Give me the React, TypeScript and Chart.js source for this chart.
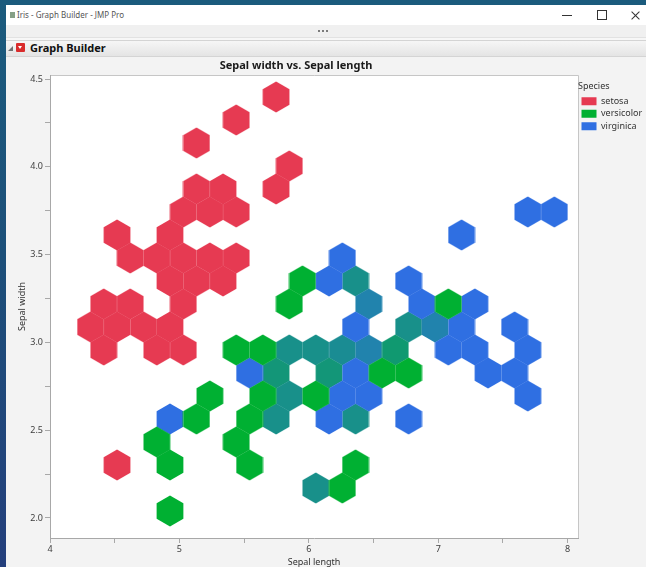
import React, { useEffect, useRef } from "react";
import { Chart, registerables } from "chart.js";

Chart.register(...registerables);

const FONT = "'Noto Sans', 'Open Sans', 'DejaVu Sans', sans-serif";

// ---------- text ----------
const windowTitle = "Iris - Graph Builder - JMP Pro";
const panelTitle = "Graph Builder";
const chartTitle = "Sepal width vs. Sepal length";
const xTitle = "Sepal length";
const yTitle = "Sepal width";
const legendTitle = "Species";

// ---------- categories ----------
const speciesNames = ["setosa", "versicolor", "virginica"];
const speciesColors = ["#E63A52", "#00B032", "#2F6FE2"];

// ---------- ticks ----------
const xMajorTicks = [4, 5, 6, 7, 8];
const xMajorLabels = ["4", "5", "6", "7", "8"];
const xMinorTicks = [4.5, 5.5, 6.5, 7.5];
const yMajorTicks = [2.0, 2.5, 3.0, 3.5, 4.0, 4.5];
const yMajorLabels = ["2.0", "2.5", "3.0", "3.5", "4.0", "4.5"];
const yMinorTicks = [2.25, 2.75, 3.25, 3.75, 4.25];
const xRange = [4.0, 8.08];
const yRange = [1.886, 4.523];

// ---------- hexbin centres (sepal length, sepal width) ----------
const setosaX = [5.747, 5.439, 5.132, 5.849, 5.132, 5.337, 5.747, 5.030, 5.235, 5.439, 4.518, 4.927, 4.620, 4.825, 5.030, 5.235, 5.439, 4.927, 5.132, 5.337, 4.415, 4.620, 5.030, 4.313, 4.518, 4.723, 4.927, 4.415, 4.825, 5.030, 4.518];
const setosaY = [4.398, 4.267, 4.136, 4.005, 3.874, 3.874, 3.874, 3.743, 3.743, 3.743, 3.612, 3.612, 3.481, 3.481, 3.481, 3.481, 3.481, 3.350, 3.350, 3.350, 3.219, 3.219, 3.219, 3.088, 3.088, 3.088, 3.088, 2.957, 2.957, 2.957, 2.302];

const versicolorX = [5.951, 5.849, 7.078, 5.439, 5.644, 6.566, 6.771, 5.235, 5.644, 6.054, 5.132, 5.542, 4.825, 5.439, 4.927, 5.542, 6.361, 6.259, 4.927];
const versicolorY = [3.350, 3.219, 3.219, 2.957, 2.957, 2.826, 2.826, 2.695, 2.695, 2.695, 2.564, 2.564, 2.433, 2.433, 2.302, 2.302, 2.302, 2.171, 2.040];

const virginicaX = [7.692, 7.897, 7.180, 6.259, 6.156, 6.771, 6.873, 7.283, 6.361, 7.180, 7.590, 7.078, 7.283, 7.692, 5.542, 6.361, 7.385, 7.590, 6.259, 6.463, 7.692, 4.927, 6.156, 6.771];
const virginicaY = [3.743, 3.743, 3.612, 3.481, 3.350, 3.350, 3.219, 3.219, 3.088, 3.088, 3.088, 2.957, 2.957, 2.957, 2.826, 2.826, 2.826, 2.826, 2.695, 2.695, 2.695, 2.564, 2.564, 2.564];

// cells holding both versicolor and virginica; share = virginica fraction
const mixedX = [6.361, 6.463, 6.771, 6.975, 5.849, 6.054, 6.259, 6.463, 6.668, 5.747, 6.156, 5.849, 5.747, 6.361, 6.054];
const mixedY = [3.350, 3.219, 3.088, 3.088, 2.957, 2.957, 2.957, 2.957, 2.957, 2.826, 2.826, 2.695, 2.564, 2.564, 2.171];
const mixedShare = [0.5, 0.7, 0.5, 0.7, 0.5, 0.5, 0.55, 0.7, 0.35, 0.4, 0.4, 0.5, 0.5, 0.5, 0.5];

const HEX_W = 26.5; // flat-to-flat width in px

function makeHex(color: string): HTMLCanvasElement {
  const R = HEX_W / Math.sqrt(3) + 0.15;
  const c = document.createElement("canvas");
  c.width = 28;
  c.height = 32;
  const g = c.getContext("2d")!;
  g.translate(14, 16);
  g.beginPath();
  for (let i = 0; i < 6; i++) {
    const a = (Math.PI / 180) * (60 * i - 90);
    const px = R * Math.cos(a);
    const py = R * Math.sin(a);
    if (i === 0) g.moveTo(px, py);
    else g.lineTo(px, py);
  }
  g.closePath();
  g.fillStyle = color;
  g.fill();
  return c;
}

function hexToRgb(h: string) {
  const n = parseInt(h.slice(1), 16);
  return [(n >> 16) & 255, (n >> 8) & 255, n & 255];
}
function blend(a: string, b: string, t: number) {
  const A = hexToRgb(a);
  const B = hexToRgb(b);
  const c = A.map((v, i) => Math.round(v * (1 - t) + B[i] * t));
  return "#" + c.map((v) => v.toString(16).padStart(2, "0")).join("");
}

const zip = (xs: number[], ys: number[]) => xs.map((x, i) => ({ x, y: ys[i] }));

export default function App() {
  const ref = useRef<HTMLCanvasElement>(null);

  useEffect(() => {
    const canvas = ref.current;
    if (!canvas) return;
    const cache = new Map<string, HTMLCanvasElement>();
    const hex = (c: string) => {
      let h = cache.get(c);
      if (!h) {
        h = makeHex(c);
        cache.set(c, h);
      }
      return h;
    };
    const xsList = [setosaX, versicolorX, virginicaX];
    const ysList = [setosaY, versicolorY, virginicaY];
    const mixedColors = mixedShare.map((t) => blend(speciesColors[1], speciesColors[2], t));

    const datasets: any[] = speciesNames.map((name, i) => ({
      label: name,
      data: zip(xsList[i], ysList[i]),
      backgroundColor: speciesColors[i],
      borderColor: speciesColors[i],
      borderWidth: 0,
      pointStyle: hex(speciesColors[i]),
      pointRadius: 13,
      pointHoverRadius: 13,
    }));
    datasets.push({
      label: "mixed",
      data: zip(mixedX, mixedY),
      backgroundColor: mixedColors[0],
      borderColor: mixedColors[0],
      borderWidth: 0,
      pointStyle: (ctx: any) => hex(mixedColors[ctx.dataIndex] ?? mixedColors[0]),
      pointRadius: 13,
      pointHoverRadius: 13,
    });

    const framePlugin = {
      id: "frame",
      beforeDraw(chart: any) {
        const { ctx, chartArea: a } = chart;
        ctx.save();
        ctx.fillStyle = "#ffffff";
        ctx.fillRect(a.left, a.top, a.right - a.left, a.bottom - a.top);
        ctx.strokeStyle = "#c6c6c6";
        ctx.lineWidth = 1;
        ctx.beginPath();
        ctx.moveTo(a.left, Math.round(a.top) + 0.5);
        ctx.lineTo(Math.round(a.right) + 0.5, Math.round(a.top) + 0.5);
        ctx.lineTo(Math.round(a.right) + 0.5, a.bottom);
        ctx.stroke();
        ctx.restore();
      },
      afterDraw(chart: any) {
        const { ctx } = chart;
        ctx.save();
        ctx.font = `bold 11px ${FONT}`;
        ctx.fillStyle = "#1a1a1a";
        ctx.textAlign = "center";
        ctx.textBaseline = "middle";
        ctx.fillText(chartTitle, 288, 9);
        ctx.restore();
      },
    };

    const tickFont = { family: FONT, size: 9 };

    const chart = new Chart(canvas, {
      type: "scatter",
      data: { datasets },
      plugins: [framePlugin],
      options: {
        responsive: false,
        animation: false,
        events: [],
        layout: { padding: { top: 18, right: 0, bottom: 0, left: 0 } },
        plugins: {
          tooltip: { enabled: false },
          title: { display: false },
          legend: {
            position: "right",
            align: "start",
            title: {
              display: true,
              text: legendTitle,
              color: "#333333",
              font: { family: FONT, size: 9 },
              padding: { top: 7, bottom: 0.5 },
              position: "start",
            } as any,
            labels: {
              boxWidth: 15,
              boxHeight: 8,
              padding: 3.5,
              color: "#333333",
              font: { family: FONT, size: 9 },
              filter: (item: any) => item.datasetIndex < 3,
            },
          },
        },
        scales: {
          x: {
            type: "linear",
            min: xRange[0],
            max: xRange[1],
            afterBuildTicks: (s: any) => {
              s.ticks = [...xMajorTicks, ...xMinorTicks].sort((a, b) => a - b).map((v) => ({ value: v }));
            },
            afterFit: (s: any) => {
              s.height = 39;
            },
            ticks: {
              autoSkip: false,
              maxRotation: 0,
              padding: 1,
              color: "#404040",
              font: tickFont,
              callback: (v: any) => {
                const i = xMajorTicks.findIndex((m) => Math.abs(m - Number(v)) < 1e-6);
                return i >= 0 ? xMajorLabels[i] : "";
              },
            },
            grid: { drawOnChartArea: false, drawTicks: true, tickLength: 5, color: "#a8a8a8", tickColor: "#a8a8a8" },
            border: { display: true, color: "#a8a8a8", width: 1 },
            title: {
              display: true,
              text: xTitle,
              color: "#303030",
              font: { family: FONT, size: 9 },
              padding: { top: 0, bottom: 9.6 },
            },
          },
          y: {
            type: "linear",
            min: yRange[0],
            max: yRange[1],
            afterBuildTicks: (s: any) => {
              s.ticks = [...yMajorTicks, ...yMinorTicks].sort((a, b) => a - b).map((v) => ({ value: v }));
            },
            afterFit: (s: any) => {
              s.width = 42;
            },
            ticks: {
              autoSkip: false,
              padding: 2,
              color: "#404040",
              font: tickFont,
              callback: (v: any) => {
                const i = yMajorTicks.findIndex((m) => Math.abs(m - Number(v)) < 1e-6);
                return i >= 0 ? yMajorLabels[i] : "";
              },
            },
            grid: { drawOnChartArea: false, drawTicks: true, tickLength: 5, color: "#a8a8a8", tickColor: "#a8a8a8" },
            border: { display: true, color: "#a8a8a8", width: 1 },
            title: {
              display: true,
              text: yTitle,
              color: "#303030",
              font: { family: FONT, size: 9 },
              padding: { top: 8.6, bottom: 0 },
            },
          },
        },
      } as any,
    });

    const diff = chart.chartArea.right - 570;
    if (Math.abs(diff) > 0.01) {
      (chart.options as any).layout.padding = { top: 18, right: diff, bottom: 0, left: 0 };
      chart.update();
    }

    return () => chart.destroy();
  }, []);

  const abs = (s: React.CSSProperties): React.CSSProperties => ({ position: "absolute", ...s });

  return (
    <div
      style={{
        position: "fixed",
        left: 0,
        top: 0,
        width: 646,
        height: 567,
        overflow: "hidden",
        background: "linear-gradient(180deg, #1b5b7d 0%, #1c4f79 45%, #243f7c 100%)",
        fontFamily: FONT,
      }}
    >
      {/* window body */}
      <div style={abs({ left: 6, top: 5, width: 640, height: 562, background: "#f7f7f7" })} />
      {/* title bar */}
      <div style={abs({ left: 6, top: 5, width: 640, height: 20, background: "#ffffff" })} />
      <div style={abs({ left: 10, top: 12, width: 5, height: 6, background: "#86a086" })} />
      <div style={abs({ left: 17, top: 10, fontSize: 8, lineHeight: "10px", color: "#555555", whiteSpace: "nowrap" })}>
        {windowTitle}
      </div>
      <div style={abs({ left: 562, top: 15, width: 10, height: 1, background: "#333" })} />
      <div style={abs({ left: 597, top: 10, width: 8, height: 8, border: "1px solid #333" })} />
      <div style={abs({ left: 629.5, top: 14.5, width: 11, height: 1, background: "#333", transform: "rotate(45deg)" })} />
      <div style={abs({ left: 629.5, top: 14.5, width: 11, height: 1, background: "#333", transform: "rotate(-45deg)" })} />
      {/* dots band */}
      <div style={abs({ left: 6, top: 25, width: 640, height: 12, background: "#f0f0f0", borderBottom: "1px solid #e2e2e2" })} />
      {[318, 322, 326].map((x) => (
        <div key={x} style={abs({ left: x, top: 30, width: 2, height: 2, borderRadius: 1, background: "#555" })} />
      ))}
      {/* Graph Builder header */}
      <div
        style={abs({
          left: 6,
          top: 40,
          width: 640,
          height: 15,
          background: "linear-gradient(180deg, #f6f6f6, #e4e4e4)",
          borderTop: "1px solid #d4d4d4",
          borderBottom: "1px solid #d4d4d4",
        })}
      />
      <div
        style={abs({
          left: 8,
          top: 46,
          width: 0,
          height: 0,
          borderStyle: "solid",
          borderWidth: "0 0 5px 5px",
          borderColor: "transparent transparent #707070 transparent",
        })}
      />
      <div style={abs({ left: 16, top: 43, width: 9, height: 9, background: "#d92b2b", borderRadius: 1 })} />
      <div
        style={abs({
          left: 18,
          top: 46,
          width: 0,
          height: 0,
          borderStyle: "solid",
          borderWidth: "3px 2.5px 0 2.5px",
          borderColor: "#ffffff transparent transparent transparent",
        })}
      />
      <div style={abs({ left: 30, top: 41, fontSize: 11, fontWeight: 700, lineHeight: "14px", color: "#111", whiteSpace: "nowrap" })}>
        {panelTitle}
      </div>
      {/* graph area */}
      <div style={abs({ left: 6, top: 57, width: 640, height: 510, background: "#f3f3f3" })} />
      <canvas
        ref={ref}
        width={660}
        height={520}
        style={abs({ left: 8, top: 57, width: 660, height: 520, background: "#f3f3f3", display: "block" })}
      />
    </div>
  );
}
